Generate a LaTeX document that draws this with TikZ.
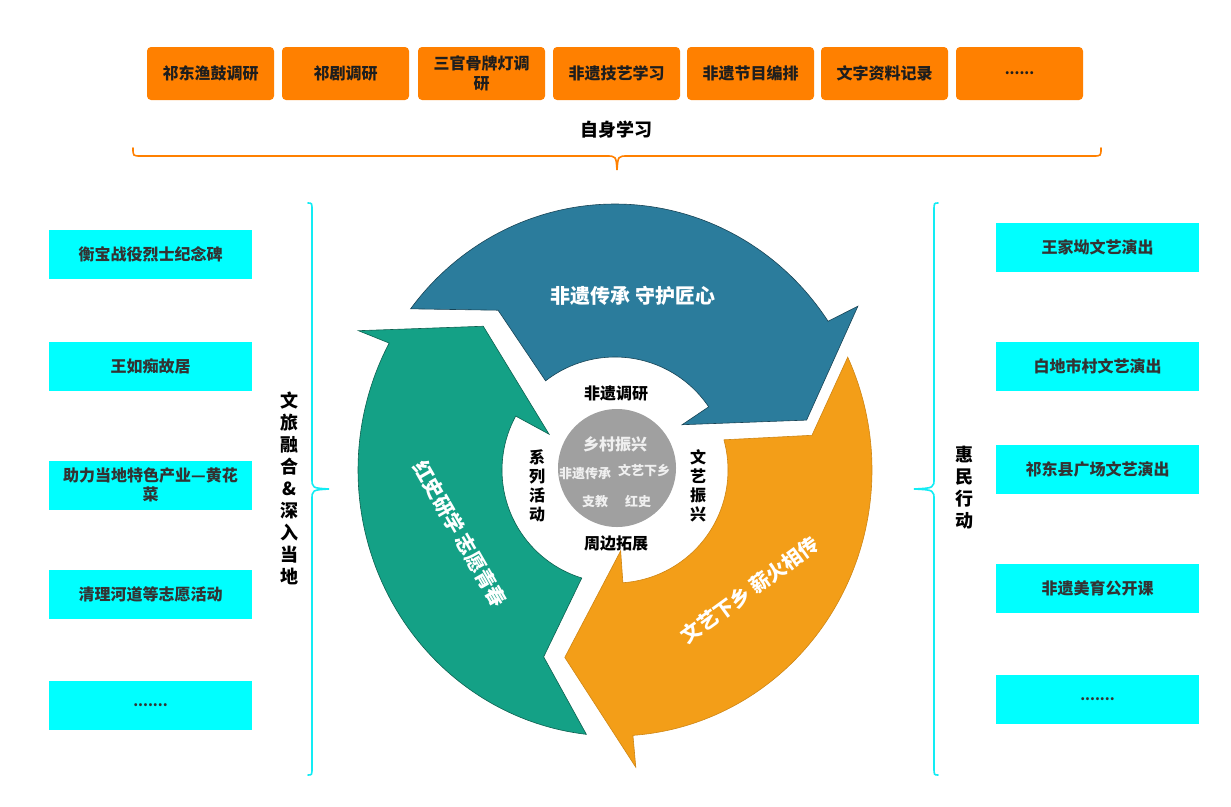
\documentclass[tikz,border=0pt]{standalone}
\usepackage{fontspec}
\setmainfont{Noto Sans CJK SC}
\usepackage{tikz}
\definecolor{studyorange}{HTML}{FF8000}
\definecolor{sitecyan}{HTML}{00FFFF}
\definecolor{bracecyan}{HTML}{12ECF4}
\definecolor{heritageblue}{HTML}{2B7C9C}
\definecolor{redgreen}{HTML}{14A186}
\definecolor{villageorange}{HTML}{F39E18}
\definecolor{hubgray}{HTML}{A0A0A0}
\definecolor{textdark}{HTML}{1E1E1E}
\definecolor{textgray}{HTML}{333333}

\begin{document}
\begin{tikzpicture}[x=1pt, y=-1pt, font=\bfseries,
    studybox/.style={rectangle, rounded corners=4pt, fill=studyorange, minimum width=127pt,
      minimum height=53pt, inner sep=2pt, align=center, text=textdark,
      font=\bfseries\fontsize{16}{20}\selectfont},
    sitebox/.style={rectangle, fill=sitecyan, minimum width=203pt, minimum height=49pt,
      inner sep=2pt, align=center, text=textgray, font=\bfseries\fontsize{16}{19}\selectfont},
    sidelabel/.style={align=center, text=black, inner sep=0pt, font=\bfseries\fontsize{18}{22}\selectfont},
    ringlabel/.style={text=white, inner sep=0pt, font=\bfseries\fontsize{20}{24}\selectfont},
    hublabel/.style={text=black, align=center, inner sep=0pt, font=\bfseries\fontsize{16}{19}\selectfont},
    hubtext/.style={text=white!94!black, inner sep=0pt, font=\bfseries\fontsize{13}{15}\selectfont},
    arrowpart/.style={line width=0.6pt, line join=miter},
    bracepath/.style={line width=1.6pt, line cap=round}]

    \useasboundingbox (0,0) rectangle (1231,806);
    \fill[white] (0,0) rectangle (1231,806);

    % self study row
    \node (s1) [studybox] at (210.5,73.5) {祁东渔鼓调研};
    \node (s2) [studybox] at (345.5,73.5) {祁剧调研};
    \node (s3) [studybox] at (481.5,73.5) {三官骨牌灯调\\研};
    \node (s4) [studybox] at (616.5,73.5) {非遗技艺学习};
    \node (s5) [studybox] at (750.5,73.5) {非遗节目编排};
    \node (s6) [studybox] at (884.5,73.5) {文字资料记录};
    \node (s7) [studybox] at (1019.5,73.5) {\fontsize{14}{16}\selectfont ......};
    \node (studyTitle) [sidelabel] at (616,130) {自身学习};
    \coordinate (studyL) at (133,148);
    \coordinate (studyR) at (1101,148);
    \draw[bracepath, studyorange] (studyL) .. controls (133,156) .. (141,156) -- (606,156)
      .. controls (616,156) .. (617,170) .. controls (618,156) .. (628,156) -- (1093,156)
      .. controls (1101,156) .. (studyR);

    % left column: local sites
    \node (l1) [sitebox] at (150.5,254) {衡宝战役烈士纪念碑};
    \node (l2) [sitebox] at (150.5,366) {王如痴故居};
    \node (l3) [sitebox] at (150.5,485) {助力当地特色产业—黄花\\菜};
    \node (l4) [sitebox] at (150.5,594) {清理河道等志愿活动};
    \node (l5) [sitebox] at (150.5,705.5) {\fontsize{14}{16}\selectfont .......};
    \node (leftTitle) [sidelabel] at (289,488) {文\\旅\\融\\合\\\&\\深\\入\\当\\地};
    \coordinate (leftT) at (308,203);
    \coordinate (leftB) at (308,775);
    \draw[bracepath, bracecyan] (leftT) .. controls (312,203) .. (312,211) -- (312,478)
      .. controls (312,488) .. (329,489) .. controls (312,490) .. (312,500) -- (312,767)
      .. controls (312,775) .. (leftB);

    % right column: public shows
    \node (r1) [sitebox] at (1097.5,247.5) {王家坳文艺演出};
    \node (r2) [sitebox] at (1097.5,366) {白地市村文艺演出};
    \node (r3) [sitebox] at (1097.5,469.5) {祁东县广场文艺演出};
    \node (r4) [sitebox] at (1097.5,588) {非遗美育公开课};
    \node (r5) [sitebox] at (1097.5,699.5) {\fontsize{14}{16}\selectfont .......};
    \node (rightTitle) [sidelabel] at (964,488) {惠\\民\\行\\动};
    \coordinate (rightT) at (938,203);
    \coordinate (rightB) at (938,775);
    \draw[bracepath, bracecyan] (rightT) .. controls (934,203) .. (934,211) -- (934,478)
      .. controls (934,488) .. (914,489) .. controls (934,490) .. (934,500) -- (934,767)
      .. controls (934,775) .. (rightB);

    % cycle of three arrows
    \begin{scope}[shift={(615,470)}]
      \path[arrowpart, fill=heritageblue, draw=heritageblue!55!black]
        (217.3:257 and 266) arc[start angle=217.3, end angle=326, x radius=257, y radius=266]
        -- (326:293) -- (345.4:198) -- (326:81) -- (326:113)
        arc[start angle=326, end angle=232.1, radius=113] -- (233.8:198) -- cycle;
      \path[arrowpart, fill=villageorange, draw=villageorange!85!black]
        (334.9:257 and 266) arc[start angle=334.9, end angle=446, x radius=257, y radius=266]
        -- (446:298) -- (465:194) -- (446:81) -- (446:113)
        arc[start angle=446, end angle=344.5, radius=113] -- (350:200) -- cycle;
      \path[arrowpart, fill=redgreen, draw=redgreen!60!black]
        (96.4:257 and 266) arc[start angle=96.4, end angle=208.5, x radius=257, y radius=266]
        -- (208.5:292) -- (227.5:195) -- (208.5:75) -- (208.5:113)
        arc[start angle=208.5, end angle=107.1, radius=113] -- (110.9:200) -- cycle;
    \end{scope}

    \node (blueTitle) [ringlabel] at (633,296) {非遗传承 守护匠心};
    \node (greenTitle) [ringlabel, rotate=-60] at (460,534) {红史研学 志愿青春};
    \node (orangeTitle) [ringlabel, rotate=36] at (750,590) {文艺下乡 薪火相传};

    \node (innerTop) [hublabel] at (616,393) {非遗调研};
    \node (innerBottom) [hublabel] at (616,543) {周边拓展};
    \node (innerLeft) [hublabel] at (537,486) {系\\列\\活\\动};
    \node (innerRight) [hublabel] at (698,486) {文\\艺\\振\\兴};

    % hub
    \node (hub) [circle, fill=hubgray, minimum size=118pt, inner sep=0pt] at (617,468) {};
    \node (hubMain) [hubtext, font=\bfseries\fontsize{16}{19}\selectfont] at (615,444) {乡村振兴};
    \node (hubHeritage) [hubtext] at (585,474) {非遗传承};
    \node (hubArts) [hubtext] at (644,470) {文艺下乡};
    \node (hubTeach) [hubtext] at (595,502) {支教};
    \node (hubRed) [hubtext] at (638,502) {红史};
\end{tikzpicture}
\end{document}
